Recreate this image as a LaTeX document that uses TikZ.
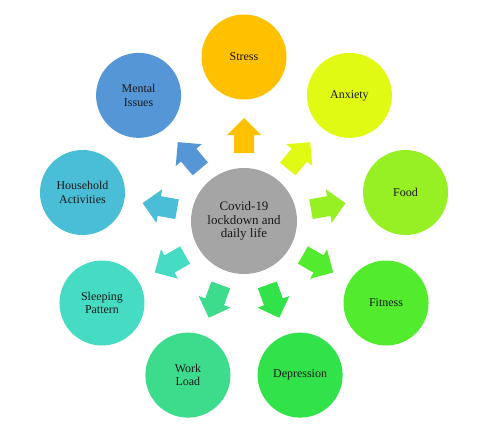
\documentclass[tikz,border=0pt]{standalone}
\usepackage{fontspec}
\setmainfont{Liberation Serif}
\usetikzlibrary{calc}
\definecolor{cstress}{RGB}{255,192,0}
\definecolor{canx}{RGB}{224,250,20}
\definecolor{cfood}{RGB}{150,240,35}
\definecolor{cfit}{RGB}{82,235,45}
\definecolor{cdep}{RGB}{50,226,75}
\definecolor{cwork}{RGB}{60,220,140}
\definecolor{csleep}{RGB}{70,220,195}
\definecolor{chouse}{RGB}{75,190,215}
\definecolor{cmental}{RGB}{85,150,215}
\definecolor{cgray}{RGB}{165,165,165}
\definecolor{ctext}{RGB}{25,25,25}
\begin{document}
\begin{tikzpicture}[x=1bp,y=1bp,
  outer/.style={circle, minimum size=85bp, inner sep=0pt, align=center, text=ctext,
    font=\fontsize{12}{13.3}\selectfont},
  hub/.style={circle, minimum size=106bp, inner sep=0pt, align=center, text=ctext,
    fill=cgray, font=\fontsize{13}{13.4}\selectfont}]
\useasboundingbox (0,0) rectangle (488,432);
\coordinate (C) at (244,211);
\node[hub] (center) at (C) {Covid-19\\lockdown and\\daily life};
\foreach \nm/\ang/\col/\txt in {
  stress/90/cstress/{Stress},
  anxiety/50/canx/{Anxiety},
  food/10/cfood/{Food},
  fitness/-30/cfit/{Fitness},
  depression/-70/cdep/{Depression},
  work/-110/cwork/{Work\\Load},
  sleep/-150/csleep/{Sleeping\\Pattern},
  house/170/chouse/{Household\\Activities},
  mental/130/cmental/{Mental\\Issues}}{
  \node[outer, fill=\col] (\nm) at ($(C)+(\ang:164)$) {\txt};
  \fill[\col, shift={(C)}, rotate=\ang]
    (68,-10) -- (86,-10) -- (86,-17) -- (103,0) -- (86,17) -- (86,10) -- (68,10) -- cycle;
}
\end{tikzpicture}
\end{document}
